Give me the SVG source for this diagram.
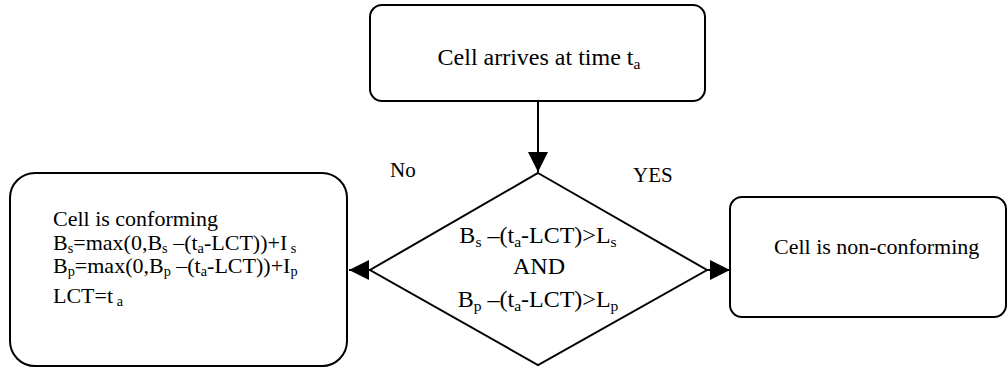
<svg xmlns="http://www.w3.org/2000/svg" width="1008" height="367" viewBox="0 0 1008 367">
<defs>
<style>
.box{fill:#fff;stroke:#000;stroke-width:2}
.dia{fill:#fff;stroke:#000;stroke-width:2}
.t{font-family:"Liberation Serif","Times New Roman",serif;fill:#000}
.conn{stroke:#000;stroke-width:2;fill:none}
.sub{font-size:65%}
</style>
<marker id="ah" markerUnits="userSpaceOnUse" markerWidth="22" markerHeight="22" refX="20" refY="10" orient="auto">
<path d="M0,0 L20,10 L0,20 Z" fill="#000"/>
</marker>
</defs>
<g id="connectors">
<line class="conn" x1="538" y1="101" x2="538" y2="172" marker-end="url(#ah)"/>
<line class="conn" x1="370" y1="270" x2="349" y2="270" marker-end="url(#ah)"/>
<line class="conn" x1="707" y1="270" x2="730" y2="270" marker-end="url(#ah)"/>
</g>
<g id="start">
<rect class="box" x="370" y="5" width="335" height="96" rx="12" ry="12"/>
<text class="t" x="539" y="65" font-size="24" text-anchor="middle">Cell arrives at time t<tspan class="sub" dy="4">a</tspan></text>
</g>
<g id="decision">
<polygon class="dia" points="538,173 707,270 538,365 370,270"/>
<text class="t" font-size="24" text-anchor="middle"><tspan x="538" y="243">B<tspan class="sub" dy="4">s</tspan><tspan dy="-4"> –(t</tspan><tspan class="sub" dy="4">a</tspan><tspan dy="-4">-LCT)&gt;L</tspan><tspan class="sub" dy="4">s</tspan></tspan><tspan x="539" y="274">AND</tspan><tspan x="538" y="307">B<tspan class="sub" dy="4">p</tspan><tspan dy="-4"> –(t</tspan><tspan class="sub" dy="4">a</tspan><tspan dy="-4">-LCT)&gt;L</tspan><tspan class="sub" dy="4">p</tspan></tspan></text>
</g>
<g id="conforming">
<rect class="box" x="10" y="173" width="337" height="193" rx="25" ry="25"/>
<text class="t" font-size="22"><tspan x="53" y="226">Cell is conforming</tspan><tspan x="53" y="250">B<tspan class="sub" dy="3">s</tspan><tspan dy="-3">=max(0,B</tspan><tspan class="sub" dy="3">s</tspan><tspan dy="-3"> –(t</tspan><tspan class="sub" dy="3">a</tspan><tspan dy="-3">-LCT))+I</tspan><tspan class="sub" dy="3"> s</tspan></tspan><tspan x="53" y="273">B<tspan class="sub" dy="3">p</tspan><tspan dy="-3">=max(0,B</tspan><tspan class="sub" dy="3">p</tspan><tspan dy="-3"> –(t</tspan><tspan class="sub" dy="3">a</tspan><tspan dy="-3">-LCT))+I</tspan><tspan class="sub" dy="3">p</tspan></tspan><tspan x="53" y="303">LCT=t<tspan class="sub" dy="3"> a</tspan></tspan></text>
</g>
<g id="nonconforming">
<rect class="box" x="730" y="197" width="276" height="120" rx="12" ry="12"/>
<text class="t" x="774" y="254" font-size="22">Cell is non-conforming</text>
</g>
<g id="labels">
<text class="t" x="390" y="177" font-size="21">No</text>
<text class="t" x="633" y="182" font-size="21">YES</text>
</g>
</svg>
